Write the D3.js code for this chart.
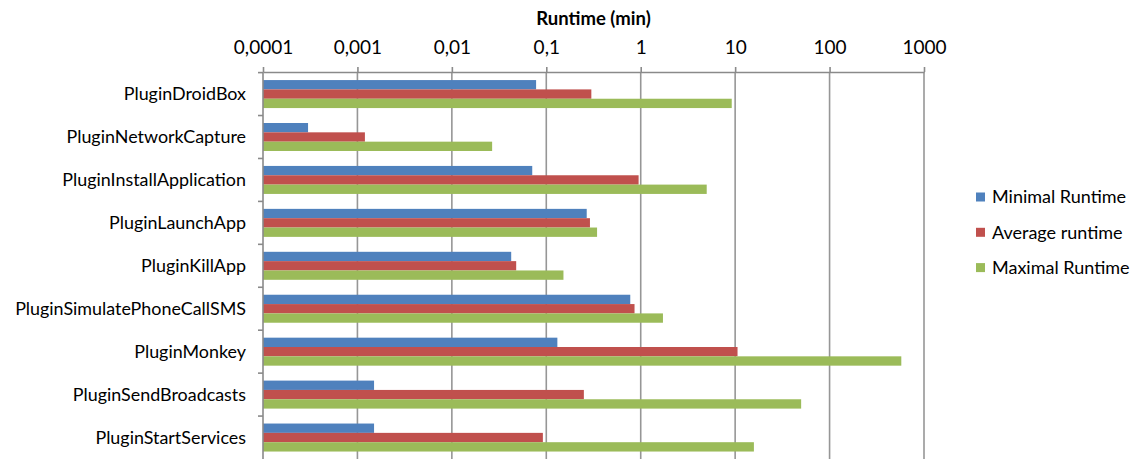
<!DOCTYPE html>
<html>
<head>
<meta charset="utf-8">
<script src="https://cdn.jsdelivr.net/npm/d3@7"></script>
<style>
  html, body { margin: 0; padding: 0; background: #fff; }
  svg { display: block; font-family: Lato, "Open Sans", sans-serif; }
</style>
</head>
<body>
<svg id="chart" width="1137" height="459"></svg>
<script>
// Plugin names, listed top to bottom
const categories = [
  "PluginDroidBox",
  "PluginNetworkCapture",
  "PluginInstallApplication",
  "PluginLaunchApp",
  "PluginKillApp",
  "PluginSimulatePhoneCallSMS",
  "PluginMonkey",
  "PluginSendBroadcasts",
  "PluginStartServices"
];

const seriesNames = ["Minimal Runtime", "Average runtime", "Maximal Runtime"];
const seriesColors = ["#4F81BD", "#C0504D", "#9BBB59"];

// Runtimes in minutes, one value per plugin
const minimalRuntime = [0.078, 0.0003, 0.071, 0.268, 0.0425, 0.775, 0.131, 0.0015, 0.0015];
const averageRuntime = [0.30, 0.0012, 0.95, 0.29, 0.048, 0.86, 10.6, 0.25, 0.092];
const maximalRuntime = [9.2, 0.0267, 5.0, 0.345, 0.152, 1.72, 575, 50, 15.8];

const tickValues = [0.0001, 0.001, 0.01, 0.1, 1, 10, 100, 1000];
const tickLabels = ["0,0001", "0,001", "0,01", "0,1", "1", "10", "100", "1000"];
const axisTitle = "Runtime (min)";

const seriesValues = [minimalRuntime, averageRuntime, maximalRuntime];

const svg = d3.select("#chart");
const plot = { left: 263, right: 924, top: 72, bottom: 459 };

const x = d3.scaleLog()
  .domain([tickValues[0], tickValues[tickValues.length - 1]])
  .range([plot.left, plot.right]);

const y0 = d3.scaleBand()
  .domain(categories)
  .range([plot.top + 0.6, plot.bottom])
  .paddingInner(0)
  .paddingOuter(0);

const y1 = d3.scaleBand()
  .domain(d3.range(seriesNames.length))
  .range([0, y0.bandwidth()])
  .paddingInner(0)
  .paddingOuter(0.8);

// Vertical gridlines at each decade
svg.append("g")
  .selectAll("line")
  .data(tickValues.slice(1))
  .join("line")
  .attr("x1", d => x(d))
  .attr("x2", d => x(d))
  .attr("y1", plot.top)
  .attr("y2", plot.bottom)
  .attr("stroke", "#969696")
  .attr("stroke-width", 1.6);

// Bars
const groups = svg.append("g")
  .selectAll("g")
  .data(categories)
  .join("g")
  .attr("transform", c => `translate(0,${y0(c)})`);

groups.selectAll("rect")
  .data((c, i) => seriesValues.map((vals, s) => ({ s, v: vals[i] })))
  .join("rect")
  .attr("x", x(tickValues[0]))
  .attr("y", d => y1(d.s))
  .attr("width", d => x(d.v) - x(tickValues[0]))
  .attr("height", y1.bandwidth())
  .attr("fill", d => seriesColors[d.s]);

// Top axis with comma decimal labels
const xAxis = d3.axisTop(x)
  .tickValues(tickValues)
  .tickFormat((d, i) => tickLabels[i])
  .tickSizeInner(5)
  .tickSizeOuter(0)
  .tickPadding(13);

const gx = svg.append("g")
  .attr("transform", `translate(0,${plot.top})`)
  .call(xAxis);
gx.select(".domain").attr("stroke", "#8a8a8a").attr("stroke-width", 1.6);
gx.selectAll(".tick line").attr("stroke", "#8a8a8a").attr("stroke-width", 1.6);
gx.selectAll(".tick text")
  .attr("fill", "#000")
  .style("font-size", "19px")
  .style("font-family", "Lato, 'Open Sans', sans-serif");

// Axis title
svg.append("text")
  .attr("x", (plot.left + plot.right) / 2)
  .attr("y", 25)
  .attr("text-anchor", "middle")
  .attr("font-size", 18.5)
  .attr("font-weight", "bold")
  .attr("fill", "#000")
  .text(axisTitle);

// Category axis on the left
const gy = svg.append("g");
gy.append("line")
  .attr("x1", plot.left).attr("x2", plot.left)
  .attr("y1", plot.top).attr("y2", plot.bottom)
  .attr("stroke", "#8a8a8a").attr("stroke-width", 1.6);
gy.selectAll("line.cat-tick")
  .data(categories)
  .join("line")
  .attr("class", "cat-tick")
  .attr("x1", plot.left - 5).attr("x2", plot.left)
  .attr("y1", c => y0(c)).attr("y2", c => y0(c))
  .attr("stroke", "#8a8a8a").attr("stroke-width", 1.6);
gy.selectAll("text")
  .data(categories)
  .join("text")
  .attr("x", plot.left - 17)
  .attr("y", c => y0(c) + y0.bandwidth() / 2)
  .attr("dy", "0.35em")
  .attr("text-anchor", "end")
  .attr("font-size", 17.9)
  .attr("fill", "#000")
  .text(c => c);

// Legend
const legend = svg.append("g")
  .selectAll("g")
  .data(seriesNames)
  .join("g")
  .attr("transform", (d, i) => `translate(976,${197 + i * 35.3})`);
legend.append("rect")
  .attr("x", 0).attr("y", -4.5)
  .attr("width", 9).attr("height", 9)
  .attr("fill", (d, i) => seriesColors[i]);
legend.append("text")
  .attr("x", 16)
  .attr("y", 0)
  .attr("dy", "0.35em")
  .attr("font-size", 18)
  .attr("fill", "#000")
  .text(d => d);
</script>
</body>
</html>
